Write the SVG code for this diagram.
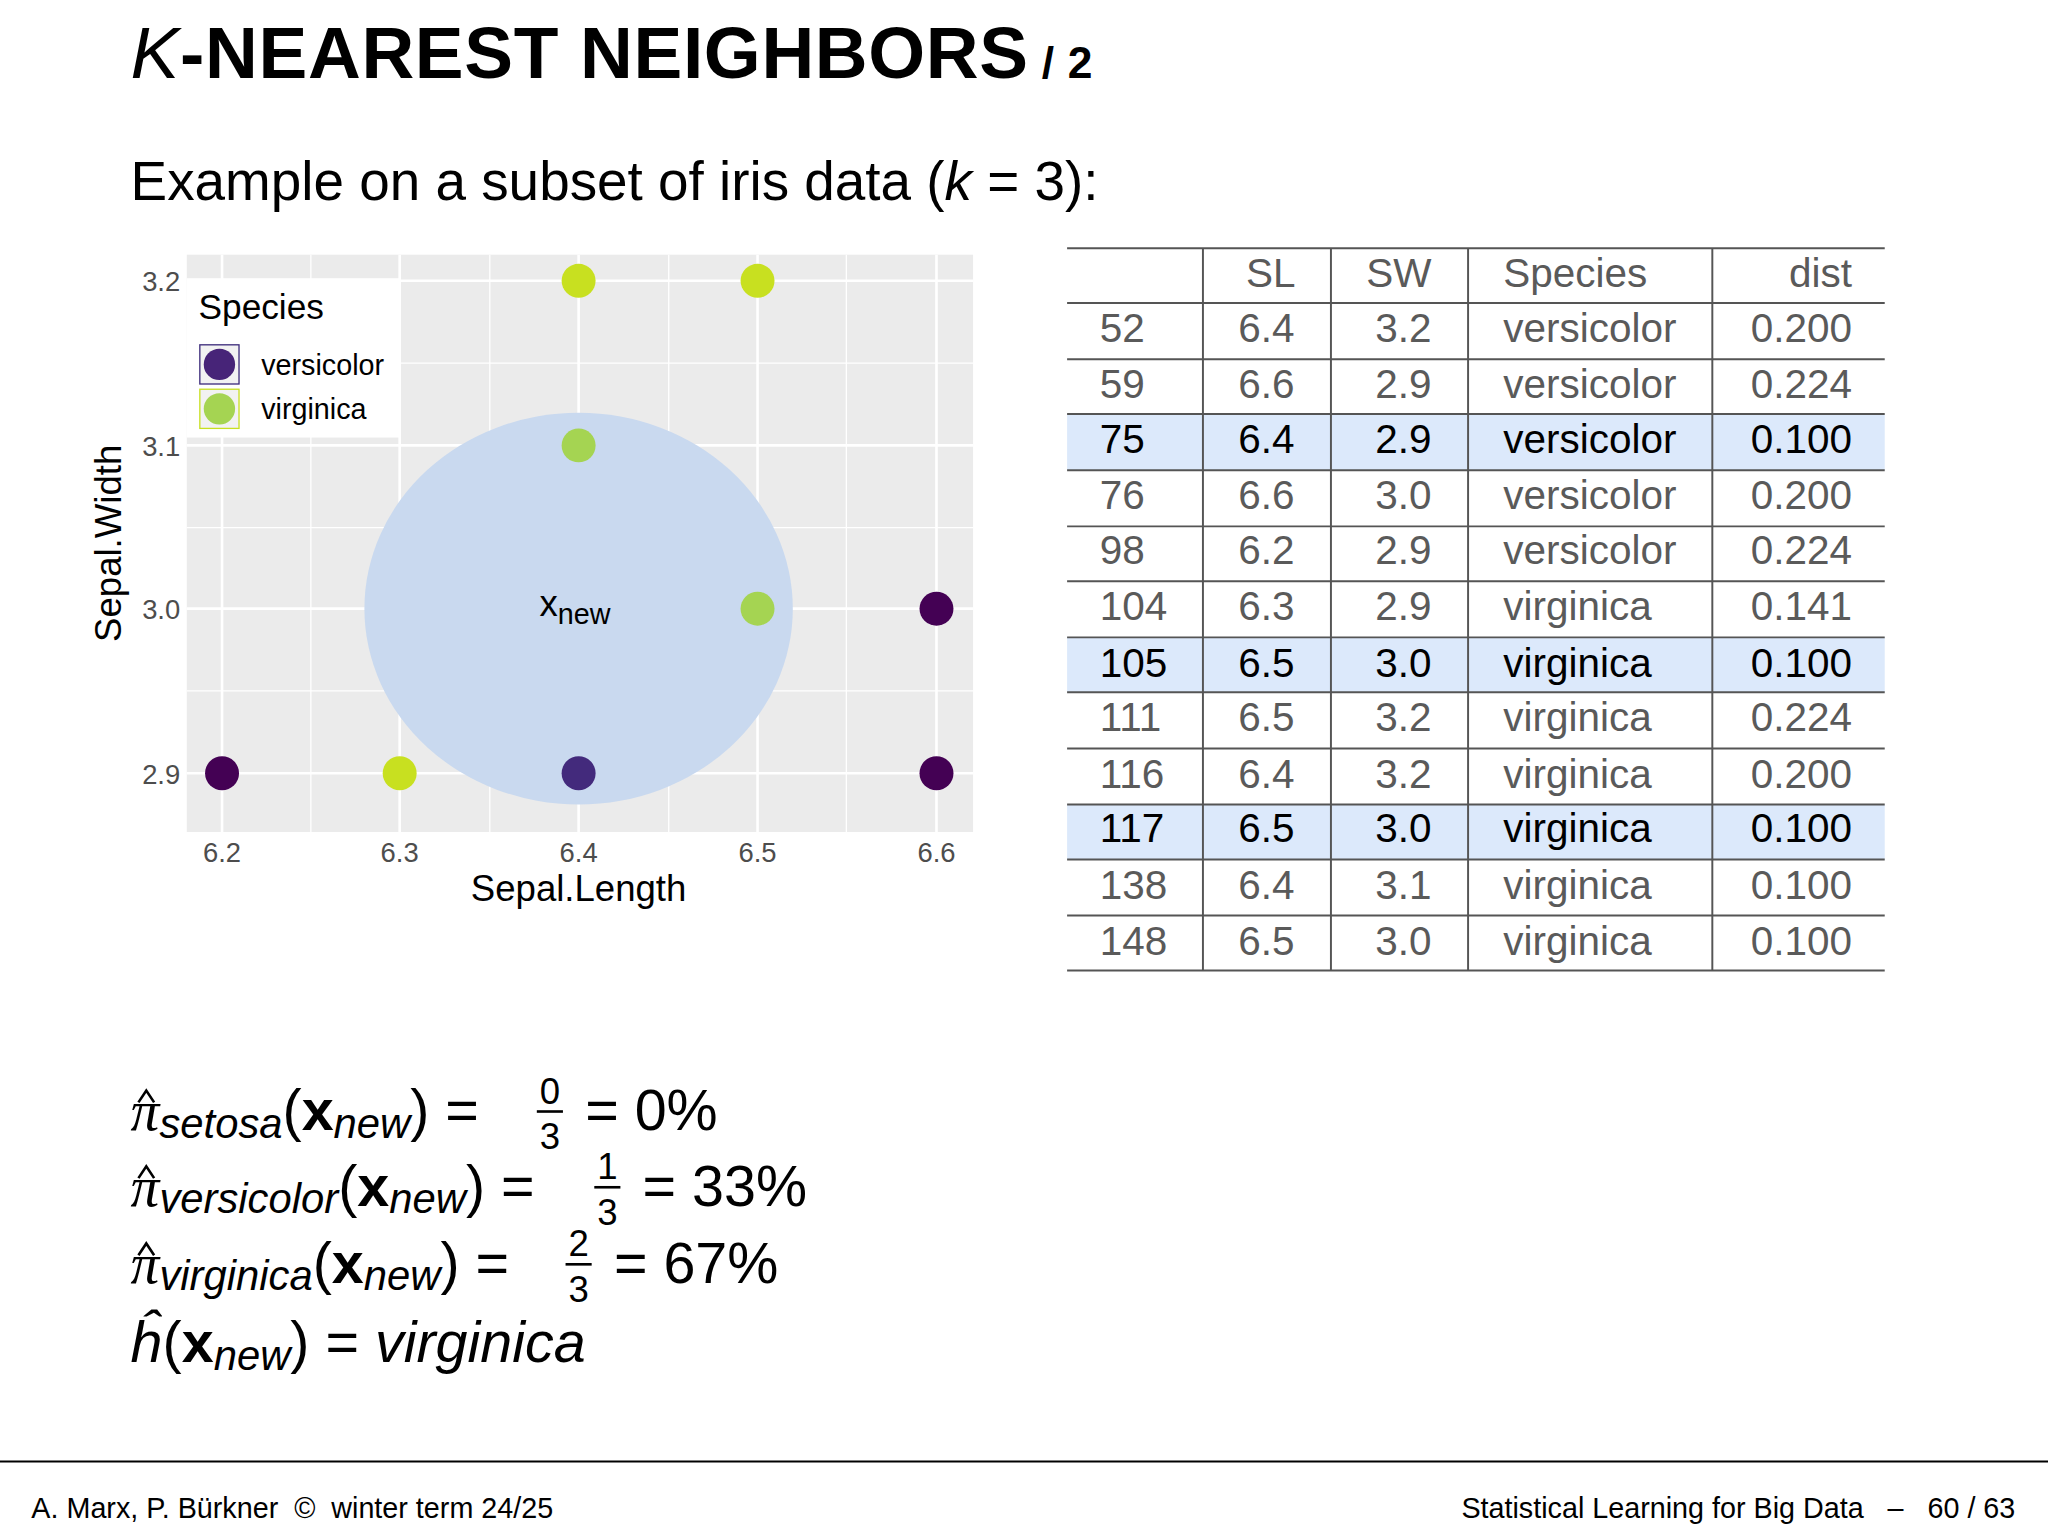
<svg xmlns="http://www.w3.org/2000/svg" width="2048" height="1536" viewBox="0 0 2048 1536">
<style>
text{font-family:"Liberation Sans",Arial,sans-serif}
.tk{font-size:21px;fill:#4d4d4d}
.td{font-size:31px;fill:#5a5a5a}
.tb{font-size:31px;fill:#000}
.m{font-family:"DejaVu Sans",sans-serif;font-size:44px;fill:#000}
.sub{font-style:italic;font-size:32px}
.hat{fill:none;stroke:#000;stroke-width:2}
.grid{stroke:#fff;stroke-width:2}
.gmin{stroke:#fff;stroke-width:1}
.hl{fill:#dce9fb}
</style>
<rect width="2048" height="1536" fill="#fff"/>
<g transform="scale(1.30612)">
<text x="100" y="60" font-size="56" font-weight="bold" letter-spacing="0.5"><tspan font-style="italic" font-weight="normal">K</tspan>-NEAREST NEIGHBORS<tspan font-size="34"> / 2</tspan></text>
<text x="100" y="153" font-size="42">Example on a subset of iris data (<tspan font-style="italic">k</tspan> = 3):</text>
<g id="plot">
<rect x="143" y="195" width="602" height="442" fill="#ebebeb"/>
<g class="gmin"><line x1="238" y1="195" x2="238" y2="637"/><line x1="375" y1="195" x2="375" y2="637"/><line x1="512" y1="195" x2="512" y2="637"/><line x1="648" y1="195" x2="648" y2="637"/>
<line x1="143" y1="278" x2="745" y2="278"/><line x1="143" y1="404" x2="745" y2="404"/><line x1="143" y1="529" x2="745" y2="529"/></g>
<g class="grid"><line x1="170" y1="195" x2="170" y2="637"/><line x1="306" y1="195" x2="306" y2="637"/><line x1="443" y1="195" x2="443" y2="637"/><line x1="580" y1="195" x2="580" y2="637"/><line x1="717" y1="195" x2="717" y2="637"/>
<line x1="143" y1="215" x2="745" y2="215"/><line x1="143" y1="341" x2="745" y2="341"/><line x1="143" y1="466" x2="745" y2="466"/><line x1="143" y1="592" x2="745" y2="592"/></g>
<ellipse cx="443" cy="466" rx="164" ry="150" fill="#c9d9ef"/>
<circle cx="443" cy="215" r="13" fill="#c8e020"/><circle cx="580" cy="215" r="13" fill="#c8e020"/>
<circle cx="170" cy="592" r="13" fill="#440154"/><circle cx="306" cy="592" r="13" fill="#c8e020"/>
<circle cx="717" cy="466" r="13" fill="#440154"/><circle cx="717" cy="592" r="13" fill="#440154"/>
<circle cx="443" cy="341" r="13" fill="#a5d452"/><circle cx="580" cy="466" r="13" fill="#a5d452"/><circle cx="443" cy="592" r="13" fill="#432a7c"/>
<text x="413" y="472" font-size="28">x<tspan font-size="22" dy="6">new</tspan></text>
<rect x="143" y="213" width="164" height="122" fill="#fff"/>
<text x="152" y="244" font-size="27">Species</text>
<rect x="153" y="264" width="30" height="30" fill="#f2f2f2" stroke="#3b2a7a"/><circle cx="168" cy="279" r="12" fill="#472478"/>
<rect x="153" y="298" width="30" height="30" fill="#f2f2f2" stroke="#c8e020"/><circle cx="168" cy="313" r="12" fill="#a5d452"/>
<text x="200" y="287" font-size="22">versicolor</text><text x="200" y="321" font-size="22">virginica</text>
<g class="tk" text-anchor="end"><text x="138" y="223">3.2</text><text x="138" y="349">3.1</text><text x="138" y="474">3.0</text><text x="138" y="600">2.9</text></g>
<g class="tk" text-anchor="middle"><text x="170" y="660">6.2</text><text x="306" y="660">6.3</text><text x="443" y="660">6.4</text><text x="580" y="660">6.5</text><text x="717" y="660">6.6</text></g>
<text x="443" y="690" font-size="28" text-anchor="middle">Sepal.Length</text>
<text transform="translate(93,416) rotate(-90)" font-size="28" text-anchor="middle">Sepal.Width</text>
</g>
<g id="table">
<rect class="hl" x="817" y="317" width="626" height="43"/><rect class="hl" x="817" y="488" width="626" height="42"/><rect class="hl" x="817" y="616" width="626" height="42"/>
<g stroke="#555" stroke-width="1.5"><line x1="817" y1="190" x2="1443" y2="190"/>
<line x1="817" y1="232" x2="1443" y2="232"/><line x1="817" y1="275" x2="1443" y2="275"/><line x1="817" y1="317" x2="1443" y2="317"/><line x1="817" y1="360" x2="1443" y2="360"/><line x1="817" y1="403" x2="1443" y2="403"/><line x1="817" y1="445" x2="1443" y2="445"/><line x1="817" y1="488" x2="1443" y2="488"/><line x1="817" y1="530" x2="1443" y2="530"/><line x1="817" y1="573" x2="1443" y2="573"/><line x1="817" y1="616" x2="1443" y2="616"/><line x1="817" y1="658" x2="1443" y2="658"/><line x1="817" y1="701" x2="1443" y2="701"/><line x1="817" y1="743" x2="1443" y2="743"/>
<line x1="921" y1="190" x2="921" y2="743"/><line x1="1019" y1="190" x2="1019" y2="743"/><line x1="1124" y1="190" x2="1124" y2="743"/><line x1="1311" y1="190" x2="1311" y2="743"/></g>
<g class="td"><text x="954" y="220">SL</text><text x="1046" y="220">SW</text><text x="1151" y="220">Species</text><text x="1418" y="220" text-anchor="end">dist</text>
<text x="842" y="262">52</text><text x="948" y="262">6.4</text><text x="1053" y="262">3.2</text><text x="1151" y="262">versicolor</text><text x="1418" y="262" text-anchor="end">0.200</text>
<text x="842" y="305">59</text><text x="948" y="305">6.6</text><text x="1053" y="305">2.9</text><text x="1151" y="305">versicolor</text><text x="1418" y="305" text-anchor="end">0.224</text>
<text x="842" y="390">76</text><text x="948" y="390">6.6</text><text x="1053" y="390">3.0</text><text x="1151" y="390">versicolor</text><text x="1418" y="390" text-anchor="end">0.200</text>
<text x="842" y="432">98</text><text x="948" y="432">6.2</text><text x="1053" y="432">2.9</text><text x="1151" y="432">versicolor</text><text x="1418" y="432" text-anchor="end">0.224</text>
<text x="842" y="475">104</text><text x="948" y="475">6.3</text><text x="1053" y="475">2.9</text><text x="1151" y="475">virginica</text><text x="1418" y="475" text-anchor="end">0.141</text>
<text x="842" y="560">111</text><text x="948" y="560">6.5</text><text x="1053" y="560">3.2</text><text x="1151" y="560">virginica</text><text x="1418" y="560" text-anchor="end">0.224</text>
<text x="842" y="603">116</text><text x="948" y="603">6.4</text><text x="1053" y="603">3.2</text><text x="1151" y="603">virginica</text><text x="1418" y="603" text-anchor="end">0.200</text>
<text x="842" y="688">138</text><text x="948" y="688">6.4</text><text x="1053" y="688">3.1</text><text x="1151" y="688">virginica</text><text x="1418" y="688" text-anchor="end">0.100</text>
<text x="842" y="731">148</text><text x="948" y="731">6.5</text><text x="1053" y="731">3.0</text><text x="1151" y="731">virginica</text><text x="1418" y="731" text-anchor="end">0.100</text></g>
<g class="tb"><text x="842" y="347">75</text><text x="948" y="347">6.4</text><text x="1053" y="347">2.9</text><text x="1151" y="347">versicolor</text><text x="1418" y="347" text-anchor="end">0.100</text>
<text x="842" y="518">105</text><text x="948" y="518">6.5</text><text x="1053" y="518">3.0</text><text x="1151" y="518">virginica</text><text x="1418" y="518" text-anchor="end">0.100</text>
<text x="842" y="645">117</text><text x="948" y="645">6.5</text><text x="1053" y="645">3.0</text><text x="1151" y="645">virginica</text><text x="1418" y="645" text-anchor="end">0.100</text></g>
</g>
<g id="formulas" class="m">
<polyline class="hat" points="106,844 112,835 118,844"/>
<polyline class="hat" points="106,902 112,893 118,902"/>
<polyline class="hat" points="106,961 112,952 118,961"/>
<text x="100" y="865"><tspan font-family="Liberation Serif" font-style="italic">π</tspan><tspan class="sub" dy="6">setosa</tspan><tspan dy="-6">(</tspan><tspan font-weight="bold">x</tspan><tspan class="sub" dy="6">new</tspan><tspan dy="-6">) =</tspan></text>
<text x="421" y="845" font-size="28" text-anchor="middle">0</text><line x1="411" y1="851" x2="431" y2="851" stroke="#000" stroke-width="2"/><text x="421" y="880" font-size="28" text-anchor="middle">3</text>
<text x="448" y="865">= 0%</text>
<text x="100" y="923"><tspan font-family="Liberation Serif" font-style="italic">π</tspan><tspan class="sub" dy="6">versicolor</tspan><tspan dy="-6">(</tspan><tspan font-weight="bold">x</tspan><tspan class="sub" dy="6">new</tspan><tspan dy="-6">) =</tspan></text>
<text x="465" y="903" font-size="28" text-anchor="middle">1</text><line x1="455" y1="909" x2="475" y2="909" stroke="#000" stroke-width="2"/><text x="465" y="938" font-size="28" text-anchor="middle">3</text>
<text x="492" y="923">= 33%</text>
<text x="100" y="982"><tspan font-family="Liberation Serif" font-style="italic">π</tspan><tspan class="sub" dy="6">virginica</tspan><tspan dy="-6">(</tspan><tspan font-weight="bold">x</tspan><tspan class="sub" dy="6">new</tspan><tspan dy="-6">) =</tspan></text>
<text x="443" y="962" font-size="28" text-anchor="middle">2</text><line x1="433" y1="968" x2="453" y2="968" stroke="#000" stroke-width="2"/><text x="443" y="997" font-size="28" text-anchor="middle">3</text>
<text x="470" y="982">= 67%</text>
<text x="100" y="1043"><tspan font-style="italic">ĥ</tspan>(<tspan font-weight="bold">x</tspan><tspan class="sub" dy="6">new</tspan><tspan dy="-6">) = </tspan><tspan font-style="italic">virginica</tspan></text>
</g>
<line x1="0" y1="1119" x2="1568" y2="1119" stroke="#000" stroke-width="1.5"/>
<text x="24" y="1162" font-size="22" xml:space="preserve">A. Marx, P. Bürkner  ©  winter term 24/25</text>
<text x="1543" y="1162" font-size="22" text-anchor="end" xml:space="preserve">Statistical Learning for Big Data   –   60 / 63</text>
</g>
</svg>
